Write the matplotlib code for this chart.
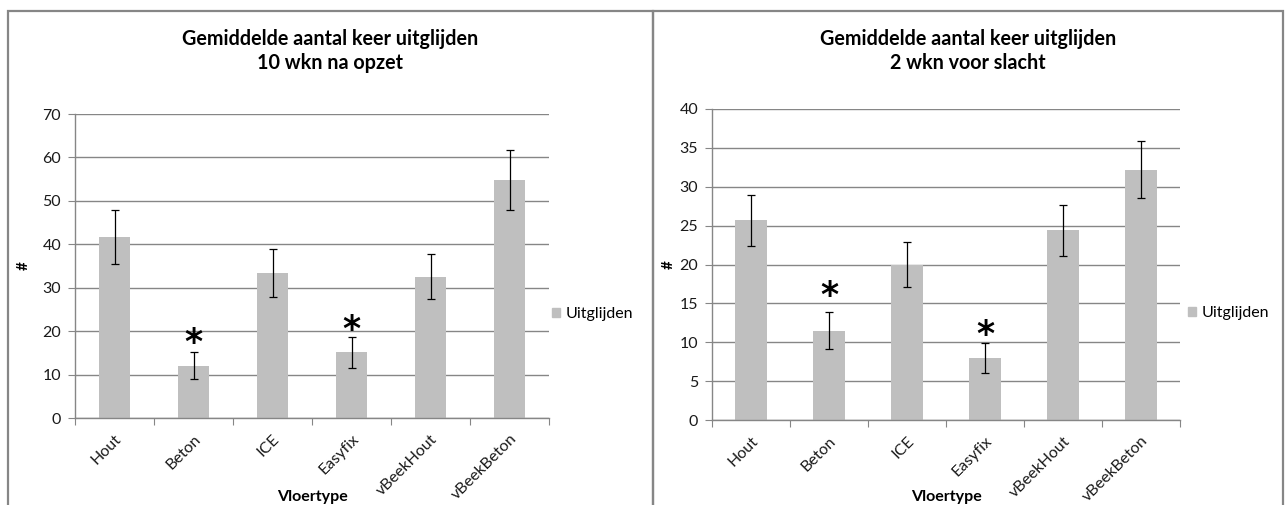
import matplotlib
matplotlib.use('Agg')
import matplotlib.pyplot as plt
from matplotlib.patches import Patch, Rectangle

plt.rcParams['font.family'] = ['Lato', 'DejaVu Sans']

vloertypes = ['Hout', 'Beton', 'ICE', 'Easyfix', 'vBeekHout', 'vBeekBeton']

uitglijden_opzet = [41.7, 12.0, 33.3, 15.1, 32.5, 54.8]
fout_opzet = [6.2, 3.1, 5.5, 3.6, 5.2, 6.9]

uitglijden_slacht = [25.7, 11.5, 20.0, 8.0, 24.4, 32.2]
fout_slacht = [3.3, 2.35, 2.95, 1.95, 3.25, 3.65]

# vloertypes die significant verschillen
significant = [1, 3]

W, H = 1285, 505
DPI = 100
GRIJS = '#868686'
BALK = '#bfbfbf'
TEKST = '#1a1a1a'


def px_box(x0, y0, x1, y1):
    # pixelcoordinaten (vanaf linksboven) naar figuurfracties
    return [x0 / W, 1 - y1 / H, (x1 - x0) / W, (y1 - y0) / H]


def teken(fig, box, waarden, fouten, ymax, stap, titel, paneel, ster_px, legend_xy):
    ax = fig.add_axes(px_box(*box))
    x = list(range(len(vloertypes)))
    ax.bar(x, waarden, width=0.4, color=BALK, zorder=2)
    ax.errorbar(x, waarden, yerr=fouten, fmt='none', ecolor='black',
                elinewidth=0.9, capsize=3.2, capthick=0.9, zorder=3)

    ax.set_xlim(-0.5, len(vloertypes) - 0.5)
    ax.set_ylim(0, ymax)
    ax.set_yticks(range(0, ymax + 1, stap))
    ax.yaxis.grid(True, color=GRIJS, linewidth=1.0, zorder=0)
    ax.set_axisbelow(True)

    for s in ['top', 'right']:
        ax.spines[s].set_visible(False)
    for s in ['left', 'bottom']:
        ax.spines[s].set_color(GRIJS)
        ax.spines[s].set_linewidth(1.0)

    # tickstreepjes tussen de categorieen, labels in het midden
    ax.set_xticks([i - 0.5 for i in range(len(vloertypes) + 1)])
    ax.set_xticklabels([])
    ax.set_xticks(x, minor=True)
    ax.set_xticklabels(vloertypes, minor=True, rotation=45, ha='right',
                       rotation_mode='anchor', fontsize=11.5, color=TEKST)
    ax.tick_params(axis='x', which='major', length=5, color=GRIJS, direction='out')
    ax.tick_params(axis='x', which='minor', length=0, pad=10)
    ax.tick_params(axis='y', length=5, color=GRIJS, labelsize=11.5,
                   labelcolor=TEKST, pad=5)

    bh = box[3] - box[1]
    bw = box[2] - box[0]
    ax.set_xlabel('Vloertype', fontsize=11.5, fontweight='bold', va='center')
    ax.xaxis.set_label_coords(0.5, -(497 - box[3]) / bh)
    ax.set_ylabel('#', fontsize=11, fontweight='bold', va='center')
    ax.yaxis.set_label_coords(-(box[0] - paneel[0] - 16) / bw, 0.5)

    for i, off in zip(significant, ster_px):
        ax.annotate('*', (i, waarden[i] + fouten[i]), xytext=(0, off),
                    textcoords='offset pixels', ha='center', va='center',
                    fontsize=25, fontweight='bold', family='DejaVu Sans')

    x0, x1 = paneel
    fig.text((x0 + x1) / 2 / W, 1 - 51 / H, titel, ha='center', va='center',
             fontsize=14.2, fontweight='bold', linespacing=1.2)

    ax.legend(handles=[Patch(color=BALK, label='Uitglijden')],
              loc='center left', bbox_to_anchor=(legend_xy[0] / W, 1 - legend_xy[1] / H),
              bbox_transform=fig.transFigure, frameon=False, fontsize=11.5,
              handlelength=0.5, handleheight=0.5, handletextpad=0.35,
              borderpad=0, borderaxespad=0)

    fig.patches.append(Rectangle((x0 / W, -0.1), (x1 - x0) / W, 1.1 - 10.7 / H,
                                 transform=fig.transFigure, fill=False,
                                 edgecolor=GRIJS, linewidth=1.6))
    return ax


fig = plt.figure(figsize=(W / DPI, H / DPI), dpi=DPI)

teken(fig, (75, 114, 549, 418), uitglijden_opzet, fout_opzet, 70, 10,
      'Gemiddelde aantal keer uitglijden\n10 wkn na opzet', (7.5, 652.7),
      [9, 7], (552, 314))
teken(fig, (712, 109, 1180, 420), uitglijden_slacht, fout_slacht, 40, 5,
      'Gemiddelde aantal keer uitglijden\n2 wkn voor slacht', (652.7, 1283),
      [16, 8], (1188, 313))

fig.savefig('out.png', dpi=DPI)
